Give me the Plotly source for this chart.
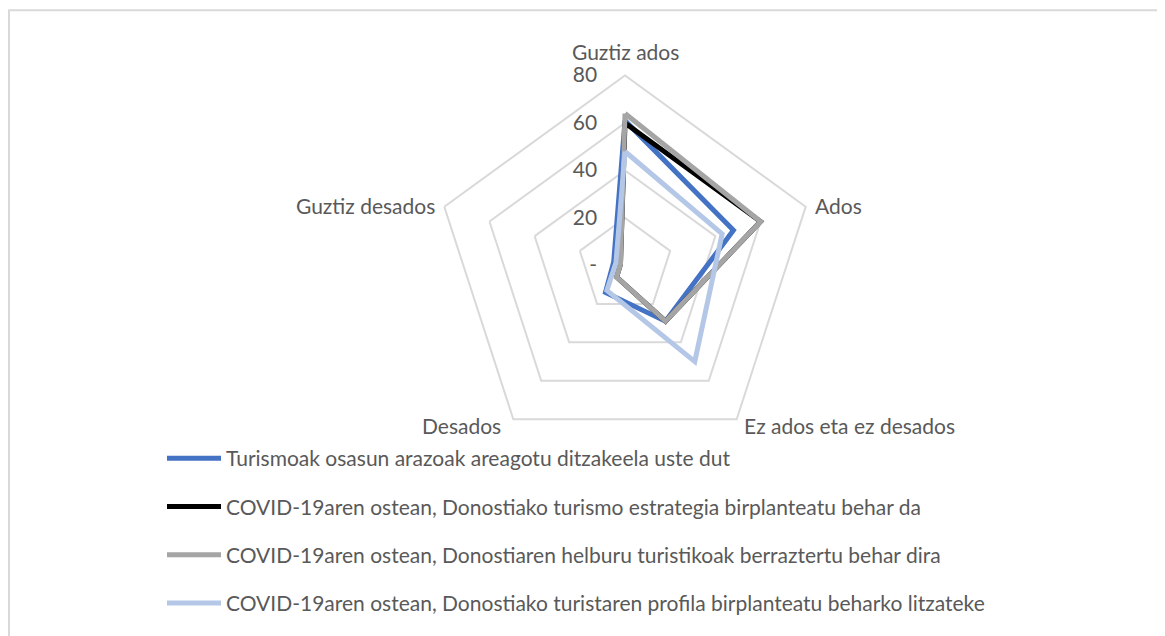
import math
import plotly.graph_objects as go

categories = ["Guztiz ados", "Ados", "Ez ados eta ez desados", "Desados", "Guztiz desados"]

series_names = [
    "Turismoak osasun arazoak areagotu ditzakeela uste dut",
    "COVID-19aren ostean, Donostiako turismo estrategia birplanteatu behar da",
    "COVID-19aren ostean, Donostiaren helburu turistikoak berraztertu behar dira",
    "COVID-19aren ostean, Donostiako turistaren profila birplanteatu beharko litzateke",
]
osasun_arazoak = [61, 48, 29, 14, 5]
estrategia = [60, 60, 29, 6, 2]
helburuak = [64, 60, 29, 6, 2]
profila = [48, 43, 50, 13, 4]
series_values = [osasun_arazoak, estrategia, helburuak, profila]
series_colors = ["#4472C4", "#000000", "#A5A5A5", "#B4C7E7"]

tick_vals = [0, 20, 40, 60, 80]
tick_text = ["-", "20", "40", "60", "80"]

FONT = "Lato"
FS = 21
TXT = "#595959"
GRID = "#D9D9D9"

# page body has an 8px margin -> figure is drawn 8px right/down
W, H = 1157, 628
cx, cy, R = 617.0, 257.5, 190.0

fig = go.Figure()
for i, (name, vals, col) in enumerate(zip(series_names, series_values, series_colors)):
    fig.add_trace(go.Scatterpolar(
        r=vals + vals[:1],
        theta=categories + categories[:1],
        mode="lines",
        name=name,
        legendgroup=f"g{i}",
        line=dict(color=col, width=5),
        hoverinfo="skip",
    ))

# category labels placed around the polygon vertices
label_offsets = [  # (dx, dy, xanchor)
    (0, -23.5, "center"),
    (7, -1.5, "left"),
    (5, 6, "left"),
    (-10, 6, "right"),
    (-7, -1.5, "right"),
]
annotations = []
for i, (cat, (dx, dy, xa)) in enumerate(zip(categories, label_offsets)):
    th = math.radians(90 - 72 * i)
    vx = cx + R * math.cos(th)
    vy = cy - R * math.sin(th)
    annotations.append(dict(
        text=cat, x=(vx + dx) / W, y=1 - (vy + dy) / H, xref="paper", yref="paper",
        xanchor=xa, yanchor="middle", showarrow=False,
        font=dict(family=FONT, size=FS, color=TXT),
    ))

fig.update_layout(
    width=W, height=H,
    margin=dict(l=0, r=0, t=0, b=0),
    paper_bgcolor="white",
    font=dict(family=FONT, size=FS, color=TXT),
    polar=dict(
        domain=dict(x=[(cx - R) / W, (cx + R) / W], y=[(H - cy - R) / H, (H - cy + R) / H]),
        bgcolor="white",
        gridshape="linear",
        angularaxis=dict(
            rotation=90, direction="clockwise",
            showgrid=False, showline=True, linecolor=GRID, linewidth=2,
            ticks="", showticklabels=False,
        ),
        radialaxis=dict(
            range=[0, 80], tickvals=tick_vals, ticktext=tick_text,
            angle=90, tickangle=90, side="counterclockwise",
            showline=False, ticks="outside", ticklen=20, tickcolor="rgba(0,0,0,0)",
            gridcolor=GRID, gridwidth=2,
            tickfont=dict(family=FONT, size=FS, color=TXT),
        ),
    ),
    showlegend=True,
    legend=dict(
        x=154 / W, y=1 - 430 / H, xanchor="left", yanchor="top",
        tracegroupgap=18, itemwidth=54,
        font=dict(family=FONT, size=FS, color=TXT),
        bgcolor="rgba(0,0,0,0)",
    ),
    annotations=annotations,
    shapes=[dict(
        type="rect", xref="paper", yref="paper",
        x0=1 / W, x1=1.01, y0=-0.01, y1=1 - 2.3 / H,
        line=dict(color=GRID, width=2), fillcolor="rgba(0,0,0,0)", layer="below",
    )],
)

fig.write_html("out.html")
